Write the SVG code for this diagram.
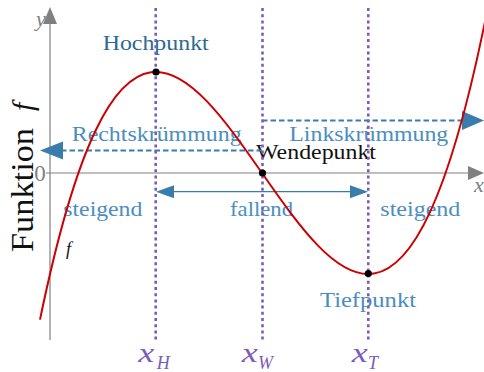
<svg xmlns="http://www.w3.org/2000/svg" width="484" height="372" viewBox="0 0 484 372">
<style>
.lbl{font-family:"Liberation Serif","Times New Roman",serif;font-size:21px}
.blue{fill:#4a8ec0}
.dark{fill:#2c6a92}
.math{font-family:"Liberation Serif","Times New Roman",serif;font-style:italic}
.axis{stroke:#808080;stroke-width:1.2;fill:none}
.vline{stroke:#7b5cb8;stroke-width:2.6;stroke-dasharray:3 3.2;fill:none}
.dash{stroke:#3a7dac;stroke-width:2;stroke-dasharray:5.5 3;fill:none}
.solid{stroke:#3a7dac;stroke-width:1.3;fill:none}
.head{fill:#3a7dac}
.gray{fill:#808080}
.purple{fill:#7b5cb8}
</style>
<rect width="484" height="372" fill="#ffffff"/>
<g id="axes">
<line class="axis" x1="46" y1="173" x2="470" y2="173"/>
<polygon class="gray" points="484,173 468,166 468,180"/>
<line class="axis" x1="50" y1="340" x2="50" y2="22"/>
<polygon class="gray" points="50,7 43,24 57,24"/>
<text class="math gray" x="36" y="26" style="font-size:22px">y</text>
<text class="math gray" x="474" y="192" style="font-size:22px">x</text>
<text class="lbl gray" x="40" y="181" style="font-size:23px" text-anchor="middle">0</text>
</g>
<g id="labels">
<text class="lbl" x="33" y="252" style="font-size:31px" transform="rotate(-90 33 252)" textLength="124" lengthAdjust="spacingAndGlyphs" fill="#111">Funktion</text>
<text class="math" x="33" y="111" style="font-size:30px" transform="rotate(-90 33 111)" fill="#111">f</text>
<text class="lbl dark" x="102.7" y="50" textLength="106" lengthAdjust="spacingAndGlyphs">Hochpunkt</text>
<text class="lbl blue" x="71.7" y="141" textLength="170" lengthAdjust="spacingAndGlyphs">Rechtskrümmung</text>
<text class="lbl blue" x="289.3" y="140.7" textLength="159" lengthAdjust="spacingAndGlyphs">Linkskrümmung</text>
<text class="lbl" x="256" y="159.3" textLength="120" lengthAdjust="spacingAndGlyphs" fill="#111">Wendepunkt</text>
<text class="lbl blue" x="320" y="306.5" textLength="96" lengthAdjust="spacingAndGlyphs">Tiefpunkt</text>
<text class="lbl blue" x="63.3" y="216" textLength="79" lengthAdjust="spacingAndGlyphs">steigend</text>
<text class="lbl blue" x="230" y="216" textLength="63" lengthAdjust="spacingAndGlyphs">fallend</text>
<text class="lbl blue" x="380.3" y="216" textLength="80" lengthAdjust="spacingAndGlyphs">steigend</text>
<text class="math" x="66" y="255" style="font-size:18px" fill="#111">f</text>
<text class="math purple" x="138.3" y="362" style="font-size:27px" textLength="16" lengthAdjust="spacingAndGlyphs">x</text>
<text class="math purple" x="156.7" y="368.5" style="font-size:18px">H</text>
<text class="math purple" x="241.7" y="362" style="font-size:27px" textLength="16" lengthAdjust="spacingAndGlyphs">x</text>
<text class="math purple" x="258" y="368.5" style="font-size:18px">W</text>
<text class="math purple" x="351.7" y="362" style="font-size:27px" textLength="16" lengthAdjust="spacingAndGlyphs">x</text>
<text class="math purple" x="368" y="368.5" style="font-size:18px">T</text>
</g>
<g id="connectors">
<line class="dash" x1="262" y1="150.5" x2="62" y2="150.5"/>
<polygon class="head" points="40,150.5 63,141.5 63,159.5"/>
<line class="dash" x1="262" y1="120.5" x2="463" y2="120.5"/>
<polygon class="head" points="484,120.5 462,111 462,130"/>
<line class="solid" x1="172" y1="191.7" x2="352" y2="191.7"/>
<polygon class="head" points="156,191.7 174,185.2 174,198.2"/>
<polygon class="head" points="368,191.7 350,185.2 350,198.2"/>
<line class="vline" x1="155.7" y1="8" x2="155.7" y2="340"/>
<line class="vline" x1="262.5" y1="8" x2="262.5" y2="340"/>
<line class="vline" x1="368.3" y1="8" x2="368.3" y2="340"/>
</g>
<g id="curve">
<path d="M40,319.6 C188.67,-399.9 337.33,753 486,16.6" fill="none" stroke="#cc0000" stroke-width="2"/>
</g>
<g id="Hochpunkt"><circle cx="156" cy="72" r="3.6" fill="#000"/></g>
<g id="Wendepunkt"><circle cx="262.5" cy="173" r="3.6" fill="#000"/></g>
<g id="Tiefpunkt"><circle cx="368.3" cy="273.5" r="3.6" fill="#000"/></g>
</svg>
